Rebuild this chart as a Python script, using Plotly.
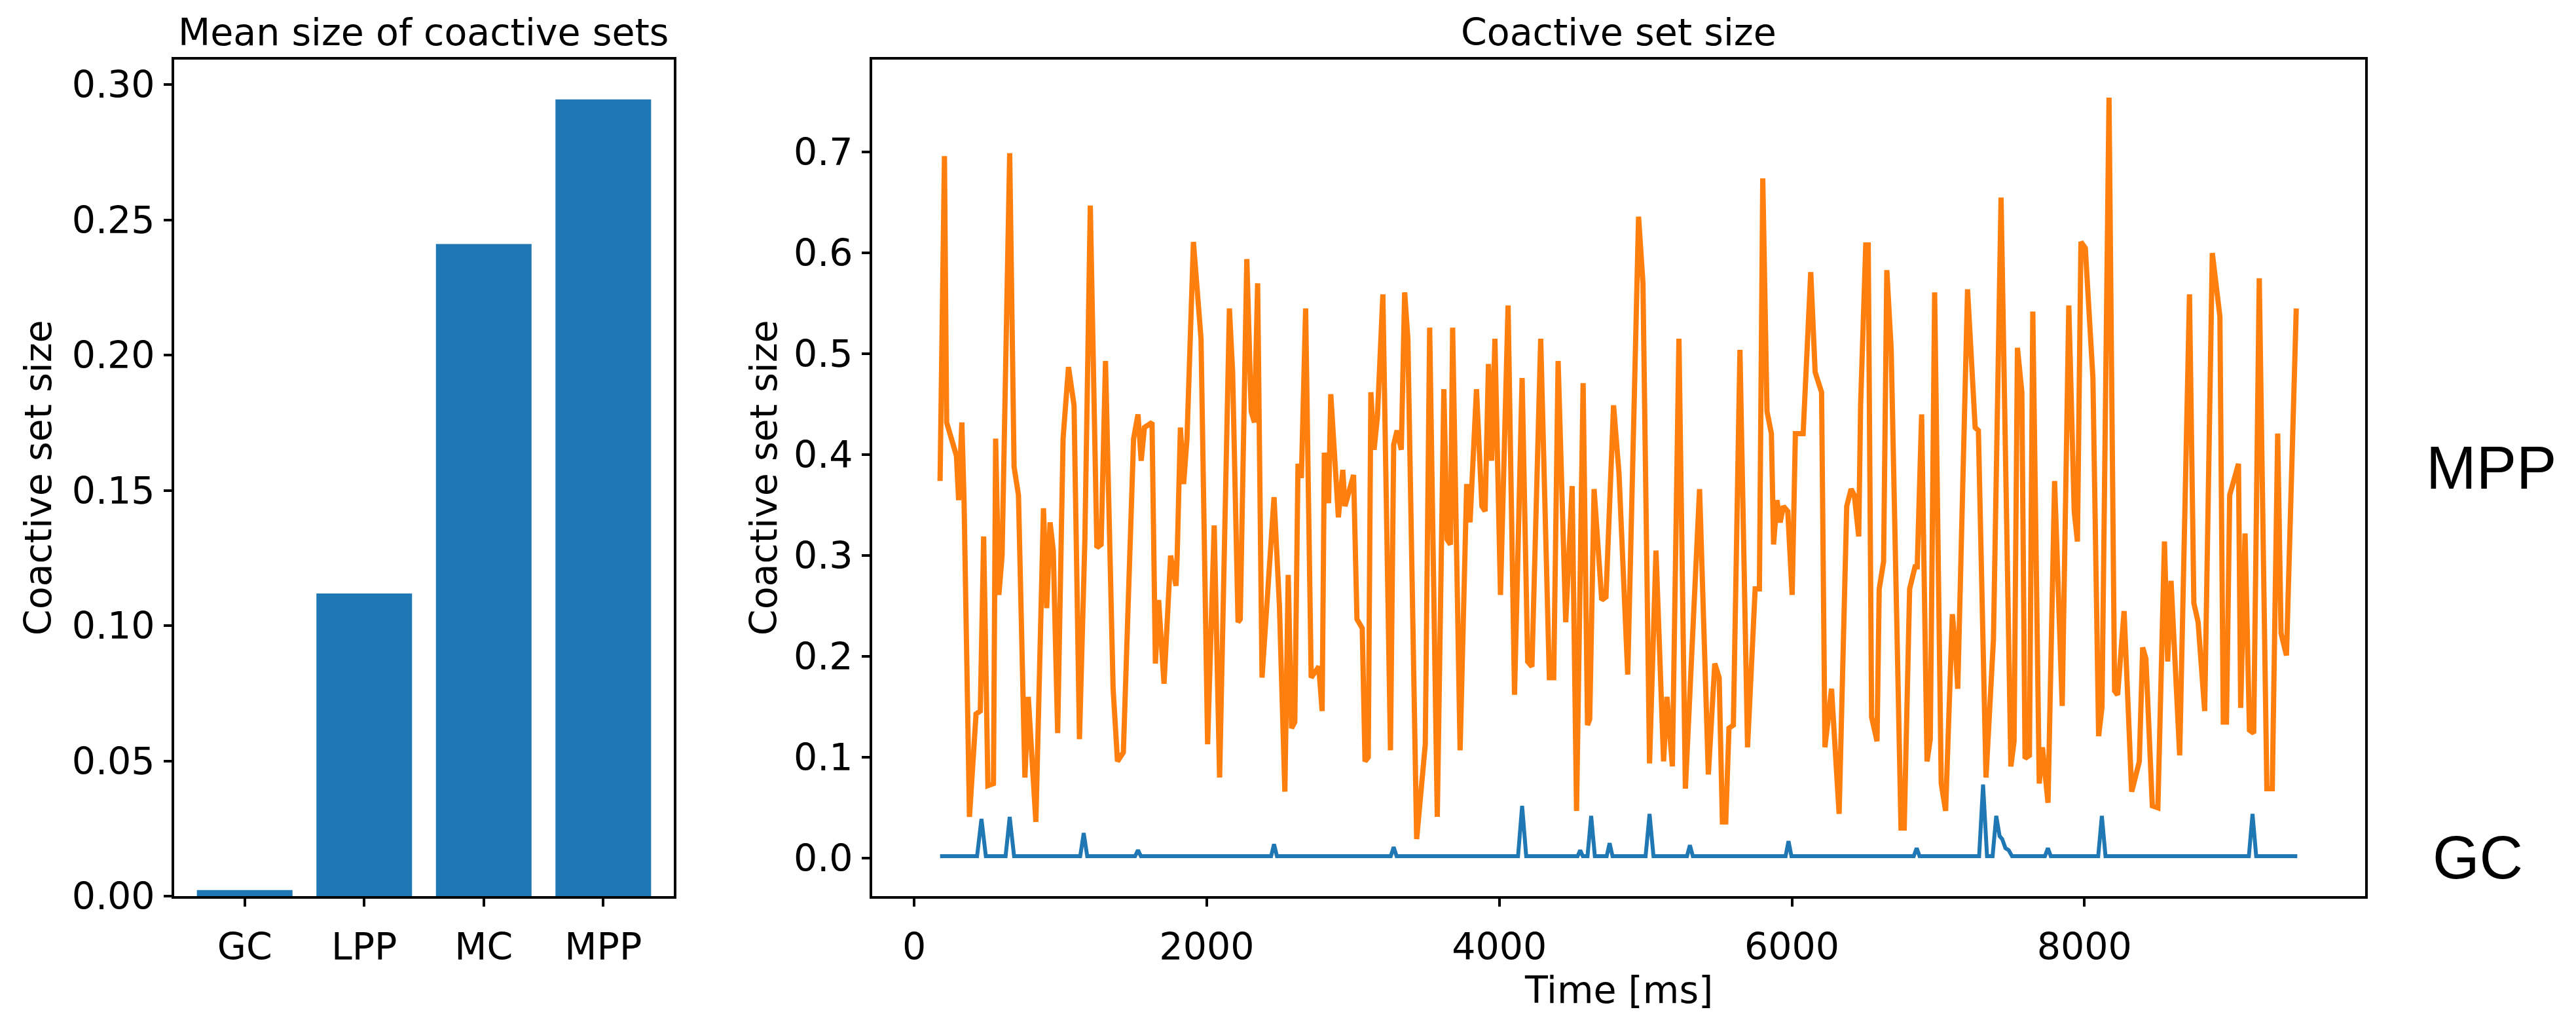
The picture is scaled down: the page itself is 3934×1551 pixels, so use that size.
import plotly.graph_objects as go

# ---------------- data ----------------
bar_categories = ["GC", "LPP", "MC", "MPP"]
bar_values = [0.0023, 0.1119, 0.2411, 0.2945]

mpp_time = [177, 207, 222, 289, 304, 326, 341, 378, 423, 452, 475, 504, 542, 557, 579, 601, 653, 683, 713, 757,
            780, 832, 884, 906, 929, 951, 981, 1018, 1055, 1093, 1130, 1167, 1204, 1249, 1278, 1308, 1360, 1390, 1430, 1500,
            1530, 1552, 1574, 1626, 1649, 1671, 1708, 1753, 1790, 1798, 1820, 1842, 1865, 1909, 1961, 2006, 2051, 2088, 2155, 2177,
            2214, 2229, 2274, 2304, 2326, 2348, 2378, 2460, 2497, 2534, 2557, 2580, 2602, 2624, 2647, 2676, 2714, 2766, 2789, 2804,
            2833, 2848, 2900, 2930, 2945, 3004, 3027, 3063, 3082, 3104, 3122, 3144, 3167, 3204, 3256, 3278, 3301, 3330, 3353, 3375,
            3435, 3494, 3524, 3576, 3621, 3643, 3666, 3681, 3732, 3777, 3800, 3844, 3881, 3903, 3926, 3948, 3970, 4008, 4060, 4104,
            4156, 4194, 4223, 4283, 4342, 4372, 4402, 4454, 4498, 4528, 4573, 4603, 4618, 4648, 4700, 4729, 4781, 4818, 4878, 4952,
            4982, 5027, 5071, 5123, 5146, 5183, 5228, 5272, 5369, 5429, 5473, 5503, 5525, 5548, 5570, 5600, 5645, 5697, 5749, 5778,
            5801, 5830, 5860, 5875, 5898, 5920, 5942, 5972, 6002, 6024, 6077, 6129, 6159, 6203, 6226, 6271, 6323, 6375, 6405, 6427,
            6457, 6470, 6505, 6522, 6545, 6582, 6597, 6627, 6649, 6679, 6746, 6768, 6805, 6842, 6857, 6887, 6924, 6946, 6976, 7021,
            7051, 7097, 7119, 7134, 7201, 7253, 7275, 7327, 7378, 7430, 7497, 7519, 7542, 7572, 7594, 7624, 7647, 7691, 7713, 7736,
            7751, 7796, 7848, 7893, 7930, 7952, 7976, 8006, 8058, 8097, 8120, 8168, 8206, 8227, 8271, 8323, 8375, 8398, 8420, 8464,
            8502, 8547, 8569, 8592, 8651, 8718, 8748, 8777, 8822, 8874, 8926, 8949, 8971, 8993, 9031, 9053, 9068, 9098, 9128, 9157,
            9195, 9247, 9284, 9321, 9344, 9381, 9448]
mpp_value = [0.374, 0.696, 0.432, 0.399, 0.355, 0.432, 0.355, 0.041, 0.143, 0.146, 0.319, 0.072, 0.074, 0.416, 0.261, 0.300, 0.699, 0.388, 0.360, 0.080,
             0.160, 0.036, 0.347, 0.248, 0.333, 0.305, 0.124, 0.416, 0.487, 0.449, 0.118, 0.316, 0.647, 0.308, 0.311, 0.493, 0.168, 0.096, 0.105, 0.416,
             0.440, 0.394, 0.427, 0.432, 0.193, 0.256, 0.173, 0.300, 0.270, 0.300, 0.427, 0.371, 0.416, 0.611, 0.515, 0.113, 0.330, 0.080, 0.545, 0.482,
             0.234, 0.237, 0.594, 0.443, 0.432, 0.570, 0.179, 0.358, 0.250, 0.066, 0.281, 0.129, 0.135, 0.391, 0.377, 0.545, 0.179, 0.190, 0.146, 0.402,
             0.352, 0.460, 0.338, 0.385, 0.349, 0.380, 0.237, 0.228, 0.096, 0.100, 0.462, 0.405, 0.438, 0.559, 0.107, 0.410, 0.424, 0.405, 0.561, 0.515,
             0.019, 0.113, 0.526, 0.041, 0.465, 0.316, 0.311, 0.526, 0.107, 0.371, 0.333, 0.465, 0.349, 0.344, 0.490, 0.394, 0.515, 0.261, 0.548, 0.162,
             0.476, 0.195, 0.190, 0.515, 0.179, 0.179, 0.493, 0.234, 0.369, 0.047, 0.471, 0.132, 0.138, 0.366, 0.256, 0.259, 0.449, 0.382, 0.182, 0.636,
             0.570, 0.094, 0.305, 0.096, 0.160, 0.091, 0.515, 0.069, 0.366, 0.083, 0.193, 0.179, 0.036, 0.036, 0.129, 0.132, 0.504, 0.110, 0.267, 0.267,
             0.674, 0.443, 0.421, 0.311, 0.355, 0.333, 0.349, 0.344, 0.261, 0.421, 0.421, 0.581, 0.482, 0.462, 0.110, 0.168, 0.044, 0.349, 0.366, 0.360,
             0.319, 0.450, 0.608, 0.608, 0.140, 0.116, 0.267, 0.294, 0.583, 0.504, 0.030, 0.030, 0.267, 0.289, 0.289, 0.440, 0.096, 0.118, 0.561, 0.074,
             0.047, 0.242, 0.206, 0.168, 0.564, 0.427, 0.424, 0.080, 0.217, 0.655, 0.091, 0.116, 0.506, 0.462, 0.099, 0.102, 0.542, 0.074, 0.110, 0.077,
             0.055, 0.374, 0.151, 0.548, 0.344, 0.314, 0.611, 0.605, 0.476, 0.121, 0.150, 0.754, 0.166, 0.162, 0.245, 0.066, 0.096, 0.209, 0.198, 0.052,
             0.050, 0.314, 0.195, 0.275, 0.102, 0.559, 0.253, 0.234, 0.146, 0.600, 0.537, 0.135, 0.135, 0.360, 0.377, 0.391, 0.149, 0.322, 0.127, 0.124,
             0.575, 0.069, 0.069, 0.421, 0.223, 0.201, 0.545]

gc_time = [177, 430, 460, 490, 625, 653, 683, 1135, 1159, 1183, 1510, 1530, 1550, 2440, 2460, 2480,
           3258, 3278, 3298, 4128, 4156, 4184, 4535, 4553, 4571, 4603, 4628, 4653, 4734, 4754, 4774,
           5000, 5027, 5054, 5283, 5303, 5323, 5957, 5977, 5997, 6833, 6853, 6873, 7280, 7307, 7334,
           7372, 7397, 7420, 7438, 7460, 7482, 7505, 7730, 7750, 7770, 8094, 8119, 8144, 9124, 9149, 9174, 9455]
gc_value = [0.002, 0.002, 0.039, 0.002, 0.002, 0.041, 0.002, 0.002, 0.025, 0.002, 0.002, 0.008, 0.002, 0.002, 0.014, 0.002,
            0.002, 0.011, 0.002, 0.002, 0.052, 0.002, 0.002, 0.008, 0.002, 0.002, 0.042, 0.002, 0.002, 0.015, 0.002,
            0.002, 0.044, 0.002, 0.002, 0.013, 0.002, 0.002, 0.017, 0.002, 0.002, 0.010, 0.002, 0.002, 0.073, 0.002,
            0.002, 0.042, 0.022, 0.019, 0.010, 0.008, 0.002, 0.002, 0.010, 0.002, 0.002, 0.042, 0.002, 0.002, 0.044, 0.002, 0.002]

x_ticks = [0, 2000, 4000, 6000, 8000]
left_y_ticks = [0.00, 0.05, 0.10, 0.15, 0.20, 0.25, 0.30]
right_y_ticks = [0.0, 0.1, 0.2, 0.3, 0.4, 0.5, 0.6, 0.7]

# ---------------- layout helpers ----------------
W, H = 3934, 1551
def px(x):
    return x / W
def py(y):
    return 1 - y / H

BLUE = "#1f77b4"
ORANGE = "#ff7f0e"
FONT = "DejaVu Sans"
FS = 57

fig = go.Figure()
fig.add_trace(go.Bar(x=list(range(len(bar_categories))), y=bar_values, width=0.8,
                     marker=dict(color=BLUE, line=dict(width=0)), xaxis="x", yaxis="y",
                     showlegend=False))
fig.add_trace(go.Scatter(x=gc_time, y=gc_value, mode="lines", line=dict(color=BLUE, width=6),
                         xaxis="x2", yaxis="y2", showlegend=False))
fig.add_trace(go.Scatter(x=mpp_time, y=mpp_value, mode="lines", line=dict(color=ORANGE, width=8),
                         xaxis="x2", yaxis="y2", showlegend=False))

# axis ranges (matplotlib-like 5% margins)
tmin, tmax = min(mpp_time + gc_time), max(mpp_time + gc_time)
tpad = 0.05 * (tmax - tmin)
vmax = max(mpp_value + gc_value)
vpad = 0.05 * vmax
bmax = max(bar_values) * 1.05

base = dict(showline=True, linecolor="black", linewidth=4, mirror=True, ticks="outside",
            ticklen=12, tickwidth=4, tickcolor="black", showgrid=False, zeroline=False,
            tickfont=dict(family=FONT, size=FS, color="black"))
xcommon = dict(base, ticklabelstandoff=12)
ycommon = dict(base, ticklabelstandoff=2)

top, bottom = 93, 1398
fig.update_layout(
    width=W, height=H, margin=dict(l=0, r=0, t=0, b=0), autosize=False,
    paper_bgcolor="white", plot_bgcolor="white",
    xaxis=dict(domain=[px(266), px(1029)], range=[-0.59, len(bar_categories) - 1 + 0.59],
               tickvals=list(range(len(bar_categories))), ticktext=bar_categories, anchor="y", **xcommon),
    yaxis=dict(domain=[py(bottom), py(top)], range=[0, bmax], tickvals=left_y_ticks,
               tickformat=".2f", anchor="x", **ycommon),
    xaxis2=dict(domain=[px(1332), px(3612)], range=[tmin - tpad, tmax + tpad], tickvals=x_ticks,
                tickformat="d", anchor="y2", **xcommon),
    yaxis2=dict(domain=[py(bottom), py(top)], range=[-vpad, vmax + vpad], tickvals=right_y_ticks,
                tickformat=".1f", anchor="x2", **ycommon),
)

def ann(text, x, y, size=FS, family=FONT, angle=0, xanchor="center", yanchor="middle"):
    fig.add_annotation(text=text, x=px(x), y=py(y), xref="paper", yref="paper", showarrow=False,
                       textangle=angle, xanchor=xanchor, yanchor=yanchor,
                       font=dict(family=family, size=size, color="black"))

ann("Mean size of coactive sets", 647, 50)
ann("Coactive set size", 2472, 50)
ann("Coactive set size", 58, 745, angle=-90)
ann("Coactive set size", 1166, 745, angle=-90)
ann("Time [ms]", 2472, 1580, yanchor="bottom")
ann("MPP", 3703, 730, size=92, family="Liberation Sans, Arial", xanchor="left")
ann("GC", 3713, 1337, size=92, family="Liberation Sans, Arial", xanchor="left")

fig.write_html("out.html")
